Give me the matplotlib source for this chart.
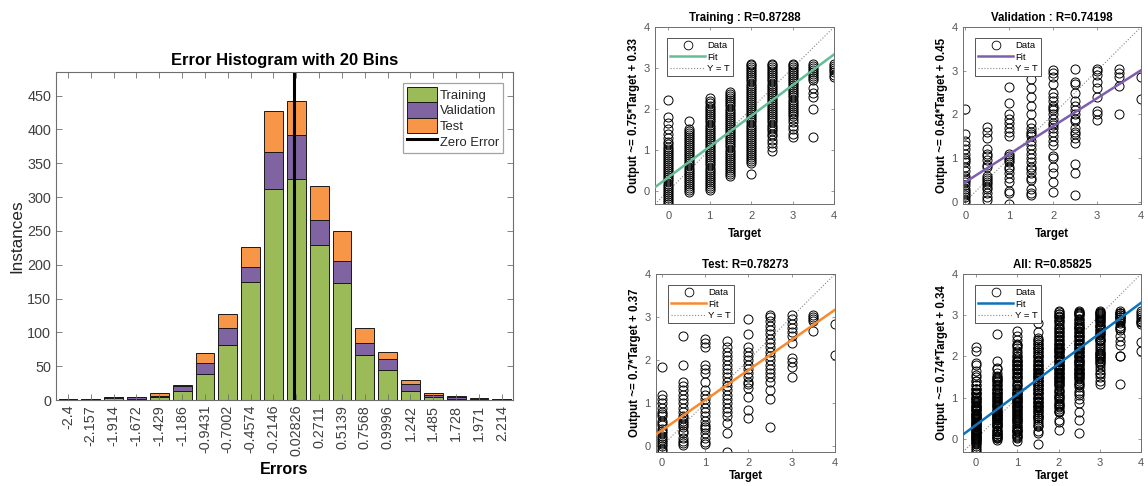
import matplotlib
matplotlib.use("Agg")
import matplotlib.pyplot as plt
from matplotlib.patches import Patch
from matplotlib.lines import Line2D

plt.rcParams['font.family'] = ['Liberation Sans', 'DejaVu Sans']

# ---------------- Histogram data ----------------
bin_centers = [-2.4, -2.157, -1.914, -1.672, -1.429, -1.186, -0.9431, -0.7002, -0.4574, -0.2146,
               0.02826, 0.2711, 0.5139, 0.7568, 0.9996, 1.242, 1.485, 1.728, 1.971, 2.214]
bin_labels = ['-2.4', '-2.157', '-1.914', '-1.672', '-1.429', '-1.186', '-0.9431', '-0.7002', '-0.4574',
              '-0.2146', '0.02826', '0.2711', '0.5139', '0.7568', '0.9996', '1.242', '1.485', '1.728',
              '1.971', '2.214']
train_counts = [1, 1, 3, 1, 4, 14, 38, 81, 175, 312, 327, 229, 173, 67, 45, 13, 5, 1, 0, 1]
val_counts = [0, 1, 1, 3, 2, 6, 16, 25, 22, 54, 65, 37, 33, 18, 16, 10, 3, 4, 1, 1]
test_counts = [0, 0, 1, 0, 4, 2, 15, 21, 29, 62, 50, 51, 44, 21, 10, 6, 3, 1, 2, 0]
hist_yticks = [0, 50, 100, 150, 200, 250, 300, 350, 400, 450]

# ---------------- Regression data (target -> outputs) ----------------
train_points = {
    0.0: [-0.32, -0.27, -0.22, -0.17, -0.12, -0.07, -0.02, 0.03, 0.08, 0.13, 0.18, 0.23, 0.28, 0.33, 0.38,
          0.43, 0.48, 0.53, 0.58, 0.63, 0.68, 0.73, 0.78, 0.83, 0.88, 0.93, 0.98, 1.03, 1.08, 1.14, 1.2,
          1.3, 1.4, 1.5, 1.65, 1.8, 2.22],
    0.5: [-0.03, 0.02, 0.07, 0.12, 0.17, 0.22, 0.27, 0.32, 0.37, 0.42, 0.47, 0.52, 0.57, 0.62, 0.67, 0.72,
          0.77, 0.82, 0.87, 0.92, 0.97, 1.02, 1.07, 1.12, 1.17, 1.22, 1.27, 1.32, 1.37, 1.42, 1.47, 1.52, 1.7],
    1.0: [0.02, 0.07, 0.12, 0.17, 0.22, 0.27, 0.32, 0.37, 0.42, 0.47, 0.52, 0.57, 0.62, 0.67, 0.72, 0.77,
          0.82, 0.87, 0.92, 0.97, 1.02, 1.07, 1.12, 1.17, 1.22, 1.27, 1.32, 1.37, 1.42, 1.47, 1.52, 1.57,
          1.62, 1.67, 1.72, 1.77, 1.82, 1.87, 1.92, 1.97, 2.02, 2.08, 2.14, 2.2, 2.27],
    1.5: [0.36, 0.41, 0.46, 0.51, 0.56, 0.61, 0.66, 0.71, 0.76, 0.81, 0.86, 0.91, 0.96, 1.01, 1.06, 1.11,
          1.16, 1.21, 1.26, 1.31, 1.36, 1.41, 1.46, 1.51, 1.56, 1.61, 1.66, 1.71, 1.76, 1.81, 1.86, 1.91,
          1.96, 2.01, 2.06, 2.11, 2.16, 2.21, 2.26, 2.31, 2.36, 2.41],
    2.0: [0.4, 0.67, 0.72, 0.77, 0.82, 0.87, 0.92, 0.97, 1.02, 1.07, 1.12, 1.17, 1.22, 1.27, 1.32, 1.37,
          1.42, 1.47, 1.52, 1.57, 1.62, 1.67, 1.72, 1.77, 1.82, 1.87, 1.92, 1.97, 2.02, 2.07, 2.12, 2.17,
          2.22, 2.27, 2.32, 2.37, 2.42, 2.47, 2.52, 2.57, 2.62, 2.67, 2.72, 2.77, 2.82, 2.87, 2.92, 2.97,
          3.02, 3.07, 3.1],
    2.5: [0.97, 1.07, 1.17, 1.25, 1.33, 1.4, 1.47, 1.52, 1.57, 1.62, 1.67, 1.72, 1.77, 1.82, 1.87, 1.92,
          1.97, 2.02, 2.07, 2.12, 2.17, 2.22, 2.27, 2.32, 2.37, 2.42, 2.47, 2.52, 2.57, 2.62, 2.67, 2.72,
          2.77, 2.82, 2.87, 2.92, 2.97, 3.02, 3.07, 3.1],
    3.0: [1.32, 1.4, 1.5, 1.58, 1.67, 1.75, 1.82, 1.88, 1.93, 1.98, 2.03, 2.08, 2.13, 2.18, 2.23, 2.28,
          2.33, 2.38, 2.43, 2.48, 2.53, 2.58, 2.63, 2.68, 2.73, 2.78, 2.83, 2.88, 2.93, 2.98, 3.03, 3.08, 3.1],
    3.5: [1.32, 2.0, 2.28, 2.38, 2.5, 2.7, 2.75, 2.8, 2.85, 2.9, 2.95, 3.0, 3.05, 3.1],
    4.0: [2.78, 2.84, 2.9, 2.95, 3.0, 3.05, 3.1],
}
val_points = {
    0.0: [0.0, 0.05, 0.1, 0.15, 0.2, 0.25, 0.3, 0.38, 0.45, 0.5, 0.55, 0.6, 0.7, 0.8, 0.9, 0.95, 1.0,
          1.1, 1.2, 1.3, 1.4, 1.55, 2.13],
    0.5: [0.05, 0.12, 0.2, 0.3, 0.35, 0.4, 0.45, 0.5, 0.55, 0.6, 0.8, 0.85, 0.95, 1.05, 1.1, 1.2, 1.45,
          1.6, 1.72],
    1.0: [-0.05, 0.2, 0.25, 0.45, 0.55, 0.65, 0.75, 0.8, 0.9, 0.95, 1.0, 1.05, 1.1, 1.5, 1.6, 1.7, 1.8,
          1.9, 2.0, 2.25, 2.62],
    1.5: [0.15, 0.2, 0.3, 0.5, 0.55, 0.65, 0.75, 0.8, 0.9, 1.0, 1.1, 1.2, 1.3, 1.4, 1.5, 1.55, 1.6, 1.7,
          1.8, 2.0, 2.2, 2.4, 2.6, 2.8],
    2.0: [0.22, 0.45, 0.65, 0.8, 1.0, 1.05, 1.3, 1.4, 1.5, 1.6, 1.7, 1.75, 1.8, 1.9, 2.0, 2.1, 2.15, 2.2,
          2.3, 2.4, 2.5, 2.7, 2.85, 2.95, 3.02],
    2.5: [0.15, 0.65, 0.87, 1.35, 1.45, 1.55, 1.6, 1.7, 1.85, 1.9, 2.0, 2.1, 2.2, 2.3, 2.5, 2.7, 2.75, 3.05],
    3.0: [1.88, 2.0, 2.08, 2.4, 2.6, 2.75, 2.9, 3.0, 3.05],
    3.5: [2.02, 2.65, 2.85, 2.95, 3.05],
    4.0: [2.35, 2.85],
}
test_points = {
    0.0: [-0.1, -0.05, 0.0, 0.05, 0.1, 0.15, 0.2, 0.25, 0.3, 0.35, 0.4, 0.5, 0.55, 0.6, 0.7, 0.75, 0.8,
          0.9, 1.0, 1.1, 1.2, 1.85],
    0.5: [0.03, 0.08, 0.12, 0.2, 0.3, 0.35, 0.45, 0.5, 0.55, 0.6, 0.65, 0.7, 0.8, 0.9, 1.0, 1.1, 1.2, 1.3,
          1.4, 1.5, 1.88, 2.55],
    1.0: [0.05, 0.1, 0.2, 0.3, 0.4, 0.45, 0.5, 0.6, 0.7, 0.8, 0.9, 1.0, 1.1, 1.2, 1.3, 1.5, 1.7, 1.8, 1.9,
          2.3, 2.4, 2.5],
    1.5: [-0.13, 0.3, 0.55, 0.7, 0.8, 0.9, 1.0, 1.1, 1.2, 1.3, 1.4, 1.5, 1.6, 1.7, 1.8, 1.9, 2.0, 2.1,
          2.2, 2.3, 2.45],
    2.0: [0.65, 0.85, 1.15, 1.35, 1.45, 1.5, 1.6, 1.7, 1.8, 1.9, 2.0, 2.1, 2.2, 2.3, 2.6, 2.95],
    2.5: [0.45, 1.1, 1.3, 1.5, 1.6, 1.7, 1.8, 1.9, 2.0, 2.1, 2.2, 2.3, 2.4, 2.5, 2.6, 2.7, 2.8, 2.9,
          3.0, 3.05],
    3.0: [1.6, 1.85, 1.95, 2.05, 2.4, 2.55, 2.65, 2.75, 2.85, 2.95, 3.05],
    3.5: [2.68, 2.9, 2.95, 3.0, 3.05],
    4.0: [2.13, 2.83],
}

panel_titles = ['Training : R=0.87288', 'Validation : R=0.74198', 'Test: R=0.78273', 'All: R=0.85825']
fit_slopes = [0.75, 0.64, 0.7, 0.74]
fit_intercepts = [0.33, 0.45, 0.37, 0.34]
fit_ylabels = ['Output ~= 0.75*Target + 0.33', 'Output ~= 0.64*Target + 0.45',
               'Output ~= 0.7*Target + 0.37', 'Output ~= 0.74*Target + 0.34']
fit_colors = ['#62BE96', '#7E5DB0', '#F88A2E', '#0E72BD']
reg_ticks = [0, 1, 2, 3, 4]

# ---------------- Figure ----------------
W, H = 1148, 486
fig = plt.figure(figsize=(W / 100, H / 100), dpi=100)
fig.patch.set_facecolor('white')


def px_axes(left, top, right, bottom):
    return fig.add_axes([left / W, 1 - bottom / H, (right - left) / W, (bottom - top) / H])


AXC = '#6e6e6e'
TICKC = '#404040'

# Histogram
ax = px_axes(56, 72, 513, 400)
c_train, c_val, c_test = '#9BBB59', '#8064A2', '#F79646'
bw = 0.2
bottoms_val = train_counts
bottoms_test = [a + b for a, b in zip(train_counts, val_counts)]
ax.bar(bin_centers, train_counts, width=bw, color=c_train, edgecolor='#1a1a1a', linewidth=0.7)
ax.bar(bin_centers, val_counts, width=bw, bottom=bottoms_val, color=c_val, edgecolor='#1a1a1a', linewidth=0.7)
ax.bar(bin_centers, test_counts, width=bw, bottom=bottoms_test, color=c_test, edgecolor='#1a1a1a', linewidth=0.7)
ax.axvline(0, color='black', linewidth=2.2)
ax.set_xlim(bin_centers[0] - 0.127, bin_centers[-1] + 0.118)
ax.set_ylim(0, 485)
ax.set_xticks(bin_centers)
ax.set_xticklabels(bin_labels, rotation=90)
ax.set_yticks(hist_yticks)
ax.tick_params(direction='in', top=True, right=True, length=4, width=0.6, color=AXC,
               labelsize=10.4, labelcolor=TICKC, pad=3.5)
for s in ax.spines.values():
    s.set_color(AXC)
    s.set_linewidth(0.8)
ax.set_title('Error Histogram with 20 Bins', fontsize=11.9, fontweight='bold', pad=5)
ax.set_xlabel('Errors', fontsize=11.6, fontweight='bold', labelpad=4)
ax.set_ylabel('Instances', fontsize=12.3, color='#262626', labelpad=2)
handles = [Patch(facecolor=c_train, edgecolor='#1a1a1a', linewidth=0.7),
           Patch(facecolor=c_val, edgecolor='#1a1a1a', linewidth=0.7),
           Patch(facecolor=c_test, edgecolor='#1a1a1a', linewidth=0.7),
           Line2D([], [], color='black', linewidth=2.2)]
leg = ax.legend(handles, ['Training', 'Validation', 'Test', 'Zero Error'], loc='upper right',
                bbox_to_anchor=(1 - 10 / 457, 1 - 11 / 328), borderaxespad=0, fontsize=9.4,
                handlelength=2.3, handleheight=1.45, labelspacing=0.0, handletextpad=0.25,
                borderpad=0.3, fancybox=False, frameon=True)
leg.get_frame().set_edgecolor('#8c8c8c')
leg.get_frame().set_linewidth(0.9)
for t in leg.get_texts():
    t.set_color('#262626')

# Regression panels
panel_boxes = [(655, 27, 834, 204), (963, 27, 1141, 204), (656, 274, 835, 452), (963, 274, 1141, 452)]
all_points = {}
for d in (train_points, val_points, test_points):
    for k, v in d.items():
        all_points.setdefault(k, []).extend(v)
panel_data = [train_points, val_points, test_points, all_points]

for i in range(4):
    ax = px_axes(*panel_boxes[i])
    data = panel_data[i]
    xs, ys = [], []
    for k, v in data.items():
        xs.extend([k] * len(v))
        ys.extend(v)
    lo = min(min(xs), min(ys))
    hi = max(max(xs), max(ys))
    ax.plot(xs, ys, linestyle='none', marker='o', markersize=6.5, markerfacecolor='none',
            markeredgecolor='black', markeredgewidth=0.7, zorder=2)
    fx = [lo, hi]
    fy = [fit_slopes[i] * x + fit_intercepts[i] for x in fx]
    ax.plot(fx, fy, color=fit_colors[i], linewidth=1.8, zorder=3)
    ax.plot([lo, hi], [lo, hi], color='#888888', linestyle=':', linewidth=0.8, zorder=1)
    ax.set_xlim(lo, hi)
    ax.set_ylim(lo, hi)
    ax.set_xticks(reg_ticks)
    ax.set_yticks(reg_ticks)
    ax.tick_params(direction='in', top=True, right=True, length=2.5, width=0.5, color=AXC,
                   labelsize=8, labelcolor='#555555')
    ax.tick_params(axis='x', pad=5 if i < 2 else 4)
    ax.tick_params(axis='y', pad=4)
    for s in ax.spines.values():
        s.set_color(AXC)
        s.set_linewidth(0.7)
    ax.set_title(panel_titles[i], fontsize=8.3, fontweight='bold', pad=4)
    ax.set_xlabel('Target', fontsize=8.3, fontweight='bold', labelpad=5 if i < 2 else 2)
    ax.set_ylabel(fit_ylabels[i], fontsize=8.3, fontweight='bold', labelpad=2)
    lh = [Line2D([], [], linestyle='none', marker='o', markersize=6.3, markerfacecolor='none',
                 markeredgecolor='black', markeredgewidth=0.6),
          Line2D([], [], color=fit_colors[i], linewidth=1.8),
          Line2D([], [], color='#888888', linestyle=':', linewidth=0.8)]
    w = panel_boxes[i][2] - panel_boxes[i][0]
    h = panel_boxes[i][3] - panel_boxes[i][1]
    lg = ax.legend(lh, ['Data', 'Fit', 'Y = T'], loc='upper left',
                   bbox_to_anchor=(12 / w, 1 - 11 / h), borderaxespad=0, fontsize=6.8,
                   handlelength=3.7, handletextpad=0.2, labelspacing=0.25, borderpad=0.35,
                   fancybox=False, frameon=True, numpoints=1)
    lg.get_frame().set_edgecolor('#555555')
    lg.get_frame().set_linewidth(0.7)
    lg.get_frame().set_alpha(1)

fig.savefig('out.png', dpi=100)
